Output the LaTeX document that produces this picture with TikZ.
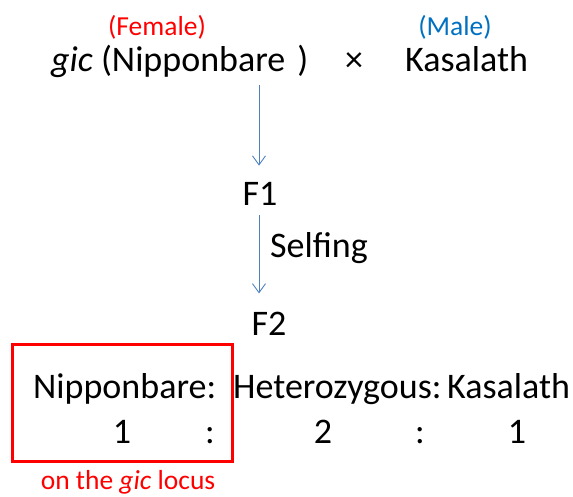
\documentclass[tikz,border=0pt]{standalone}
\usepackage{fontspec}
\setmainfont{Carlito}
\usetikzlibrary{arrows.meta}
\definecolor{femred}{RGB}{255,0,0}
\definecolor{maleblue}{RGB}{0,112,192}
\definecolor{arrblue}{RGB}{79,129,189}
\begin{document}
\begin{tikzpicture}[x=1pt,y=-1pt,
  big/.style={inner sep=0pt,font=\fontsize{36}{43}\selectfont},
  small/.style={inner sep=0pt,font=\fontsize{27.5}{33}\selectfont},
  arr/.style={draw=arrblue,line width=0.9pt,-{Straight Barb[length=9pt,width=13pt,line width=0.9pt]}}]
\useasboundingbox (0,0) rectangle (573,496);
% parents
\node[small,text=femred,anchor=base] (fem) at (157,35) {(Female)};
\node[small,text=maleblue,anchor=base] (male) at (455,35) {(Male)};
\node[big,anchor=base west] (gic) at (51,71) {\textit{gic} (Nipponbare\hspace{4pt} )};
\node[big,anchor=base] (cross) at (354,71) {×};
\node[big,anchor=base west] (kas) at (405,71) {Kasalath};
% generations
\node[big,anchor=base] (F1) at (260,205) {F1};
\node[big,anchor=base] (F2) at (269,335) {F2};
\node[big,anchor=base west] (self) at (270,257) {Selfing};
\coordinate (a1s) at (259,85);
\coordinate (a2s) at (259,215);
\draw[arr] (a1s) -- ([yshift=16pt]F1.north -| a1s);
\draw[arr] (a2s) -- ([yshift=18pt]F2.north -| a2s);
% segregation
\node[big,anchor=base west] (segN) at (33,398) {Nipponbare:};
\node[big,anchor=base west] (segH) at (233,398) {Heterozygous:};
\node[big,anchor=base west] (segK) at (447,398) {Kasalath};
\node[big,anchor=base] (r1) at (122,443) {1};
\node[big,anchor=base] (c1) at (210,443) {:};
\node[big,anchor=base] (r2) at (323,443) {2};
\node[big,anchor=base] (c2) at (420,443) {:};
\node[big,anchor=base] (r3) at (517,443) {1};
\node[draw=femred,line width=3pt,minimum width=220pt,minimum height=117pt,anchor=north west,inner sep=0pt] (box) at (11,343) {};
\node[small,text=femred,anchor=base] (locus) at (128,489) {on the \textit{gic} locus};
\end{tikzpicture}
\end{document}
